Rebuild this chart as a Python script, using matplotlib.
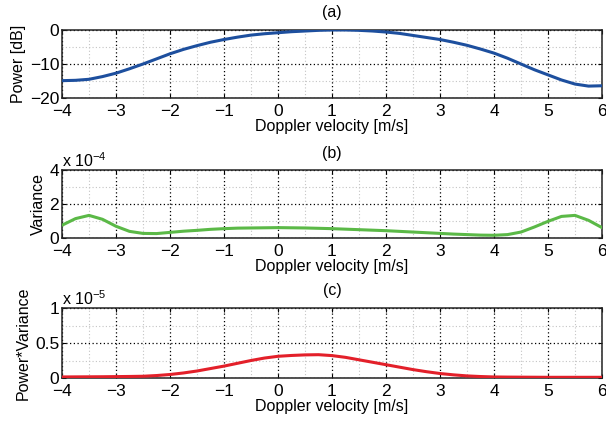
import matplotlib.pyplot as plt
from matplotlib.ticker import MultipleLocator

plt.rcParams['font.family'] = ['Liberation Sans', 'DejaVu Sans']
plt.rcParams['font.size'] = 12

# velocity grid used for all three panels
vel = [-4, -3.75, -3.5, -3.25, -3, -2.75, -2.5, -2.25, -2, -1.75, -1.5, -1.25, -1,
       -0.75, -0.5, -0.25, 0, 0.25, 0.5, 0.75, 1, 1.25, 1.5, 1.75, 2, 2.25, 2.5,
       2.75, 3, 3.25, 3.5, 3.75, 4, 4.25, 4.5, 4.75, 5, 5.25, 5.5, 5.75, 6]

# (a) power in dB
power_db = [-14.9, -14.8, -14.5, -13.7, -12.7, -11.4, -10.0, -8.5, -7.0, -5.7, -4.6,
            -3.6, -2.8, -2.1, -1.5, -1.1, -0.8, -0.5, -0.3, -0.1, 0.0, 0.0, -0.1,
            -0.3, -0.6, -1.0, -1.6, -2.2, -2.8, -3.6, -4.5, -5.6, -6.8, -8.3, -10.0,
            -11.7, -13.2, -14.7, -15.9, -16.5, -16.4]

# (b) variance, x 1e-4
variance = [0.75, 1.14, 1.33, 1.10, 0.69, 0.39, 0.27, 0.26, 0.33, 0.40, 0.45, 0.51,
            0.55, 0.58, 0.59, 0.60, 0.61, 0.60, 0.59, 0.57, 0.55, 0.52, 0.49, 0.46,
            0.43, 0.39, 0.35, 0.31, 0.27, 0.23, 0.20, 0.17, 0.16, 0.20, 0.35, 0.65,
            0.98, 1.27, 1.33, 1.04, 0.61]

# (c) power*variance, x 1e-5
pv = [0.015, 0.016, 0.017, 0.018, 0.02, 0.022, 0.025, 0.035, 0.05, 0.072, 0.10,
      0.135, 0.17, 0.21, 0.25, 0.285, 0.31, 0.322, 0.33, 0.333, 0.32, 0.295, 0.26,
      0.225, 0.19, 0.155, 0.12, 0.09, 0.064, 0.045, 0.03, 0.021, 0.015, 0.013,
      0.012, 0.011, 0.01, 0.01, 0.01, 0.01, 0.01]

xticks = [-4, -3, -2, -1, 0, 1, 2, 3, 4, 5, 6]
yticks_a = [-20, -10, 0]
yticks_b = [0, 2, 4]
yticks_c = [0, 0.5, 1]
ylabels_a = ['\u221220', '\u221210', '0']
ylabels_b = ['0', '2', '4']
ylabels_c = ['0', '0.5', '1']

panels = [
    ("(a)", power_db, "#1d4f9e", "Power [dB]", yticks_a, ylabels_a, 5, None),
    ("(b)", variance, "#5bb947", "Variance", yticks_b, ylabels_b, 1, "-4"),
    ("(c)", pv, "#e3202a", "Power*Variance", yticks_c, ylabels_c, 0.25, "-5"),
]

W, H = 606, 423
fig = plt.figure(figsize=(W / 100, H / 100), dpi=100)
boxes = [(30, 98), (170, 238), (308, 378)]
left, right = 62, 602

for (title, ys, color, ylab, yt, ytl, mnr, expo), (top, bot) in zip(panels, boxes):
    ax = fig.add_axes([left / W, 1 - bot / H, (right - left) / W, (bot - top) / H])
    ax.plot(vel, ys, color=color, lw=2.2, zorder=3, solid_joinstyle='round')
    ax.set_xticks(xticks)
    ax.set_xticklabels(['\u2212%d' % -v if v < 0 else str(v) for v in xticks])
    ax.set_yticks(yt)
    ax.set_yticklabels(ytl)
    ax.xaxis.set_minor_locator(MultipleLocator(0.5))
    ax.yaxis.set_minor_locator(MultipleLocator(mnr))
    ax.set_xlim(xticks[0], xticks[-1])
    ax.set_ylim(yt[0], yt[-1])
    ax.grid(which='minor', color='#c4c4c4', linestyle=(0, (1, 2)), lw=0.8)
    ax.grid(which='major', color='black', linestyle=(0, (1, 2)), lw=0.9)
    ax.tick_params(which='both', direction='in', top=True, right=True,
                   labelsize=12.5)
    ax.tick_params(axis='x', pad=4)
    ax.tick_params(axis='y', pad=2)
    ax.tick_params(which='minor', length=0)
    ax.tick_params(which='major', length=3)
    for s in ax.spines.values():
        s.set_linewidth(1.1)
        s.set_color('#222222')
    ax.set_title(title, fontsize=11.5, pad=9)
    ax.set_xlabel("Doppler velocity [m/s]", fontsize=11.5, labelpad=0)
    ax.set_ylabel(ylab, fontsize=11.5, labelpad=3)
    if expo:
        ax.text(0, 1.0, r'x 10$^{\mathregular{%s}}$' % expo.replace('-', '\u2212'),
                transform=ax.transAxes, ha='left', va='bottom', fontsize=11.5)

fig.savefig("out.png", dpi=100)
